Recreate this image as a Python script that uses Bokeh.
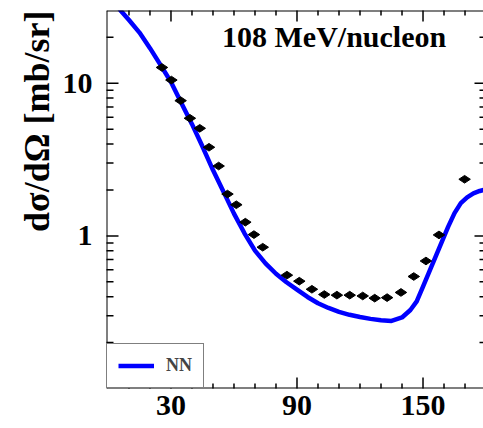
import numpy as np
from bokeh.plotting import figure
from bokeh.models import (Range1d, FixedTicker, BasicTickFormatter, Label, Legend,
                          LegendItem, Title, Span)
from bokeh.embed import file_html
from bokeh.resources import INLINE

FONT = "Liberation Serif"

# NN folding-model calculation: c.m. angle [deg] vs cross section [mb/sr]
curve_angle = [2, 6, 10, 15, 20, 25, 30, 35, 40, 45, 50, 55, 60, 65, 70, 75, 80, 85,
               90, 95, 100, 105, 110, 115, 120, 125, 130, 135, 140, 144, 147, 150,
               153, 156, 159, 162, 165, 168, 171, 174, 177, 180]
curve_xsec = [36.0, 30.0, 26.0, 21.5, 17.0, 13.2, 10.2, 7.4, 5.4, 3.85, 2.7, 1.95,
              1.40, 1.04, 0.80, 0.66, 0.565, 0.497, 0.445, 0.398, 0.362, 0.337, 0.318,
              0.304, 0.294, 0.286, 0.280, 0.277, 0.292, 0.327, 0.372, 0.466, 0.584,
              0.732, 0.918, 1.15, 1.41, 1.64, 1.79, 1.90, 1.97, 2.02]

# measured cross sections at 108 MeV/nucleon
data_angle = [25.7, 30.2, 34.6, 39.0, 43.7, 48.1, 52.7, 56.9, 61.1, 65.4, 69.5, 73.7,
              85.2, 91.1, 97.1, 103.0, 109.0, 115.1, 121.3, 127.0, 132.9, 139.5,
              145.6, 151.4, 157.6, 169.8]
data_xsec = [12.7, 10.5, 7.7, 5.9, 5.07, 3.81, 2.87, 1.88, 1.6, 1.23, 1.02, 0.843,
             0.553, 0.505, 0.447, 0.413, 0.409, 0.409, 0.404, 0.391, 0.394, 0.426,
             0.542, 0.685, 1.015, 2.35]

x_major = [30, 90, 150]
x_minor = [10, 20, 40, 50, 60, 70, 80, 100, 110, 120, 130, 140, 160, 170]
y_major = [1, 10]
y_minor = [0.2, 0.3, 0.4, 0.5, 0.6, 0.7, 0.8, 0.9, 2, 3, 4, 5, 6, 7, 8, 9, 20]

X0, X1 = -0.7, 178.8
Y0, Y1 = 0.1, 30.0

p = figure(width=483, height=428, x_range=Range1d(X0, X1), y_range=Range1d(Y0, Y1),
           y_axis_type="log", output_backend="svg", toolbar_location=None,
           min_border_left=106, min_border_right=0, min_border_top=10,
           min_border_bottom=40)
p.background_fill_color = None
p.border_fill_color = "white"
p.outline_line_color = None
p.grid.visible = False


def label_only_axis(ax, ticker, standoff):
    """Axis that carries tick labels only; frame lines and ticks are drawn separately."""
    ax.ticker = ticker
    ax.formatter = BasicTickFormatter()
    ax.axis_line_color = None
    ax.major_tick_in = 0
    ax.major_tick_out = 0
    ax.minor_tick_in = 0
    ax.minor_tick_out = 0
    ax.major_label_standoff = standoff
    ax.major_label_text_font = FONT
    ax.major_label_text_font_style = "bold"
    ax.major_label_text_font_size = "30px"
    ax.major_label_text_color = "black"


label_only_axis(p.xaxis[0], FixedTicker(ticks=x_major), 7)
label_only_axis(p.yaxis[0], FixedTicker(ticks=y_major), 14)

# frame lines: bottom, top, left (the right edge falls outside the canvas)
for loc in (Y0, Y1):
    p.add_layout(Span(location=loc, dimension="width", line_color="black", line_width=2))
p.add_layout(Span(location=X0, dimension="height", line_color="black", line_width=2))

# inward tick marks: a dash centred on the frame edge shows only its inner half
TICK = dict(marker="dash", line_color="black", line_width=1.5)
p.scatter([X0] * len(y_major), y_major, size=24, **TICK)
p.scatter([X0] * len(y_minor), y_minor, size=14, **TICK)
p.scatter([X1] * len(y_major), y_major, size=18, **TICK)
p.scatter([X1] * len(y_minor), y_minor, size=8, **TICK)
for yy in (Y0, Y1):
    p.scatter(x_major, [yy] * len(x_major), size=22, angle=np.pi / 2, **TICK)
    p.scatter(x_minor, [yy] * len(x_minor), size=10, angle=np.pi / 2, **TICK)

# theory curve and data
nn = p.line(curve_angle, curve_xsec, line_color="#0000ff", line_width=4.5)
p.scatter(data_angle, data_xsec, marker="diamond", size=11.5, angle=np.pi / 2,
          fill_color="black", line_color="black")

p.add_layout(Label(x=54.3, y=20.3, text="108 MeV/nucleon", text_font=FONT,
                   text_font_style="bold", text_font_size="30px",
                   text_baseline="alphabetic", text_color="black"))

p.add_layout(Title(text="dσ/dΩ [mb/sr]", align="right", text_font=FONT,
                   text_font_style="bold", text_font_size="36px", standoff=6,
                   text_color="black"), "left")

legend = Legend(items=[LegendItem(label="NN", renderers=[nn])], location="bottom_left",
                margin=0, padding=11, spacing=0, glyph_width=36, glyph_height=17,
                label_height=17, label_standoff=12, label_text_font=FONT,
                label_text_font_style="bold", label_text_font_size="18px",
                border_line_color="black", border_line_width=1.5,
                background_fill_color="white", background_fill_alpha=1)
p.add_layout(legend)

open("out.html", "w").write(file_html(p, INLINE))
